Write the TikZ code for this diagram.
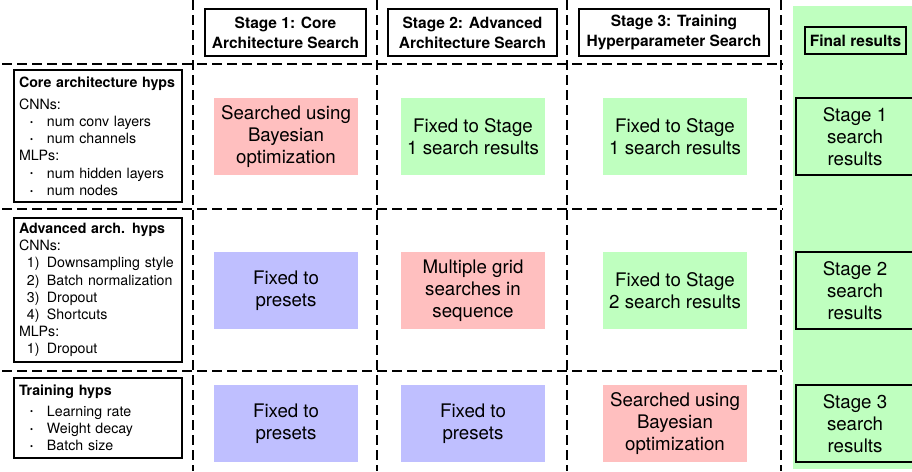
\documentclass[tikz,border=0pt]{standalone}
\usepackage{fontspec}
\setmainfont{TeX Gyre Heros}
\definecolor{srchred}{HTML}{FFBFBF}
\definecolor{fixgreen}{HTML}{BFFFBF}
\definecolor{presetblue}{HTML}{BFBFFF}
\newcommand{\hypbul}[1]{\hspace*{11pt}\makebox[17pt][l]{\raisebox{0.15ex}{\fontsize{8.5}{8.5}\selectfont\textbullet}}#1}
\newcommand{\hypnum}[2]{\hspace*{8pt}\makebox[20pt][l]{#1)}#2}
\tikzset{
  sep/.style={line width=2pt, dash pattern=on 10pt off 5pt},
  stagehead/.style={draw, line width=1.2pt, inner sep=0pt, align=center,
    font=\bfseries\fontsize{15.5}{20}\selectfont},
  hyps/.style={draw, line width=1.2pt, inner xsep=5pt, inner ysep=0pt, align=left,
    text width=158pt, font=\fontsize{14.2}{17.2}\selectfont},
  cell/.style={minimum width=144pt, minimum height=77pt, inner sep=0pt, align=center,
    font=\fontsize{18.7}{22}\selectfont},
  result/.style={cell, draw, line width=1.2pt, fill=fixgreen, minimum width=118pt},
}
\begin{document}
\begin{tikzpicture}[x=1pt,y=-1pt]
\useasboundingbox (0,0) rectangle (912,471);
% final results column
\fill[fixgreen] (793,6) rectangle (916,469);
% dashed grid
\draw[sep] (193,0) -- (193,471);
\draw[sep] (377,0) -- (377,471);
\draw[sep] (567,0) -- (567,471);
\draw[sep] (781,0) -- (781,471);
\draw[sep] (2,64) -- (783,64);
\draw[sep] (2,209) -- (783,209);
\draw[sep] (2,371) -- (783,371);
% stage headers
\node[stagehead, minimum width=161pt, minimum height=47pt] (stage1) at (285.5,32.5) {Stage 1: Core\\Architecture Search};
\node[stagehead, minimum width=169pt, minimum height=47pt] (stage2) at (472.5,32.5) {Stage 2: Advanced\\Architecture Search};
\node[stagehead, minimum width=190pt, minimum height=47pt] (stage3) at (674,32.5) {Stage 3: Training\\Hyperparameter Search};
\node[stagehead, minimum width=101pt, minimum height=27pt] (final) at (855.5,40.5) {Final results};
% hyperparameter groups
\node[hyps, minimum height=132pt] (corehyps) at (98,136) {\textbf{Core architecture hyps}\\[5pt]
CNNs:\\
\hypbul{num conv layers}\\
\hypbul{num channels}\\
MLPs:\\
\hypbul{num hidden layers}\\
\hypbul{num nodes}};
\node[hyps, minimum height=144pt] (advhyps) at (98,290) {\textbf{Advanced arch. hyps}\\
CNNs:\\
\hypnum{1}{Downsampling style}\\
\hypnum{2}{Batch normalization}\\
\hypnum{3}{Dropout}\\
\hypnum{4}{Shortcuts}\\
MLPs:\\
\hypnum{1}{Dropout}};
\node[hyps, minimum height=80pt] (trainhyps) at (98,418) {\textbf{Training hyps}\\[3pt]
\hypbul{Learning rate}\\
\hypbul{Weight decay}\\
\hypbul{Batch size}};
% stage 1
\node[cell, fill=srchred] (core1) at (286,136.5) {Searched using\\Bayesian\\optimization};
\node[cell, fill=presetblue] (adv1) at (286,290.5) {Fixed to\\presets};
\node[cell, fill=presetblue] (train1) at (286,423.5) {Fixed to\\presets};
% stage 2
\node[cell, fill=fixgreen] (core2) at (473,136.5) {Fixed to Stage\\1 search results};
\node[cell, fill=srchred] (adv2) at (473,290.5) {Multiple grid\\searches in\\sequence};
\node[cell, fill=presetblue] (train2) at (473,423.5) {Fixed to\\presets};
% stage 3
\node[cell, fill=fixgreen] (core3) at (675,136.5) {Fixed to Stage\\1 search results};
\node[cell, fill=fixgreen] (adv3) at (675,290.5) {Fixed to Stage\\2 search results};
\node[cell, fill=srchred] (train3) at (675,423.5) {Searched using\\Bayesian\\optimization};
% final results
\node[result] (res1) at (855,136.5) {Stage 1\\search\\results};
\node[result] (res2) at (855,290.5) {Stage 2\\search\\results};
\node[result] (res3) at (855,423.5) {Stage 3\\search\\results};
\end{tikzpicture}
\end{document}
